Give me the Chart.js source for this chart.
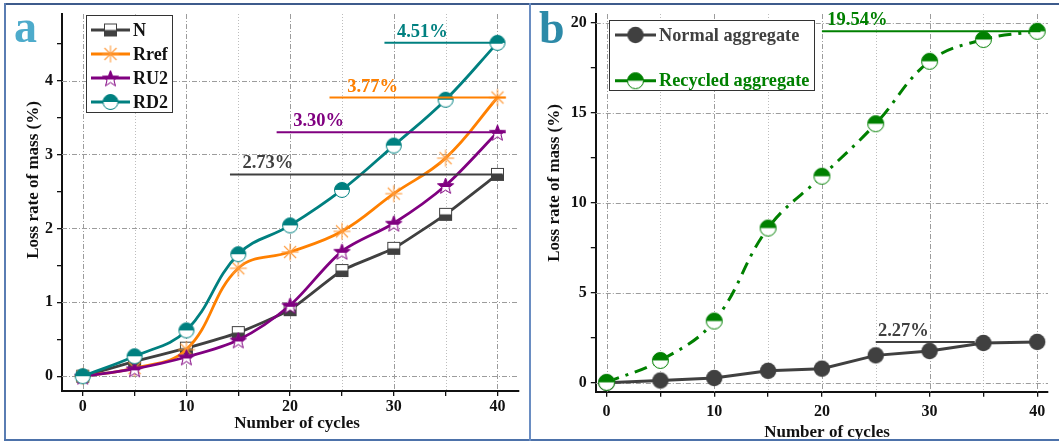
<!DOCTYPE html>
<html>
<head>
<meta charset="utf-8">
<title>Loss rate of mass</title>
<script src="https://cdn.jsdelivr.net/npm/chart.js@4.4.1/dist/chart.umd.min.js"></script>
<style>
  html, body { margin: 0; padding: 0; background: #ffffff; }
  body { width: 1059px; height: 445px; position: relative; overflow: hidden; }
  .panel { position: absolute; top: 0; height: 445px; }
  #wrapA { left: 0; width: 529px; }
  #wrapB { left: 529px; width: 530px; }
  .rule { position: absolute; z-index: 5; }
</style>
</head>
<body>
<div class="panel" id="wrapA"><canvas id="chartA" width="529" height="445"></canvas></div>
<div class="panel" id="wrapB"><canvas id="chartB" width="530" height="445"></canvas></div>
<div class="rule" style="left:4px;top:3px;width:1055px;height:2px;background:#3d5b8c"></div>
<div class="rule" style="left:4px;top:3px;width:2px;height:438px;background:#5a7db3"></div>
<div class="rule" style="left:4px;top:439px;width:1055px;height:2px;background:#4d72aa"></div>
<div class="rule" style="left:529px;top:3px;width:2px;height:438px;background:#6a8dc2"></div>

<script>
// ---- data: freeze-thaw cycles and mass loss (%) ----
const cycles = [0, 5, 10, 15, 20, 25, 30, 35, 40];

// panel a
const lossN    = [0, 0.20, 0.38, 0.59, 0.90, 1.43, 1.73, 2.19, 2.73];
const lossRref = [0, 0.11, 0.36, 1.46, 1.68, 1.96, 2.47, 2.95, 3.77];
const lossRU2  = [0, 0.10, 0.26, 0.49, 0.96, 1.69, 2.07, 2.58, 3.30];
const lossRD2  = [0, 0.27, 0.62, 1.65, 2.04, 2.52, 3.12, 3.74, 4.51];

// panel b
const lossNormal   = [0, 0.12, 0.26, 0.66, 0.78, 1.52, 1.76, 2.21, 2.27];
const lossRecycled = [0.02, 1.24, 3.43, 8.60, 11.48, 14.40, 17.87, 19.08, 19.54];

const SERIF = '"Liberation Serif", "Times New Roman", serif';
const bold = (px) => `bold ${px}px ${SERIF}`;

const C = {
  grey: '#404040', orange: '#ff8000', purple: '#800080', teal: '#008080', green: '#008000'
};

const toPoints = (ys) => cycles.map((c, i) => ({ x: c, y: ys[i] }));

// ---- marker images ----
function makeCanvas(size) {
  const cv = document.createElement('canvas');
  cv.width = size; cv.height = size;
  return cv;
}
function halfCircle(r, color) {
  const s = Math.ceil(2 * r + 3), c = s / 2;
  const cv = makeCanvas(s), g = cv.getContext('2d');
  g.beginPath(); g.arc(c, c, r, 0, Math.PI * 2); g.fillStyle = '#fff'; g.fill();
  g.save(); g.beginPath(); g.rect(0, 0, s, c); g.clip();
  g.beginPath(); g.arc(c, c, r, 0, Math.PI * 2); g.fillStyle = color; g.fill();
  g.restore();
  g.beginPath(); g.arc(c, c, r, 0, Math.PI * 2); g.lineWidth = 1; g.strokeStyle = color; g.stroke();
  return cv;
}
function fullCircle(r, color) {
  const s = Math.ceil(2 * r + 3), c = s / 2;
  const cv = makeCanvas(s), g = cv.getContext('2d');
  g.beginPath(); g.arc(c, c, r, 0, Math.PI * 2); g.fillStyle = color; g.fill();
  return cv;
}
function halfSquare(w, color) {
  const s = w + 3, o = 1.5;
  const cv = makeCanvas(s), g = cv.getContext('2d');
  g.fillStyle = '#fff'; g.fillRect(o, o, w, w);
  g.fillStyle = color; g.fillRect(o, o + w / 2, w, w / 2);
  g.lineWidth = 1; g.strokeStyle = color; g.strokeRect(o, o, w, w);
  return cv;
}
function halfStar(R, color) {
  const s = Math.ceil(2 * R + 4), c = s / 2, rIn = R * 0.42;
  const cv = makeCanvas(s), g = cv.getContext('2d');
  const path = () => {
    g.beginPath();
    for (let k = 0; k < 10; k++) {
      const a = -Math.PI / 2 + k * Math.PI / 5, rr = k % 2 ? rIn : R;
      const px = c + rr * Math.cos(a), py = c + rr * Math.sin(a) + 1;
      k ? g.lineTo(px, py) : g.moveTo(px, py);
    }
    g.closePath();
  };
  path(); g.fillStyle = '#fff'; g.fill();
  g.save(); g.beginPath(); g.rect(0, 0, s, c + 1.5); g.clip();
  path(); g.fillStyle = color; g.fill(); g.restore();
  path(); g.lineWidth = 1; g.strokeStyle = color; g.stroke();
  return cv;
}
function asterisk(r, color) {
  const s = Math.ceil(2 * r + 3), c = s / 2;
  const cv = makeCanvas(s), g = cv.getContext('2d');
  g.strokeStyle = color; g.lineWidth = 1.1;
  for (let k = 0; k < 4; k++) {
    const a = k * Math.PI / 4;
    g.beginPath();
    g.moveTo(c - r * Math.cos(a), c - r * Math.sin(a));
    g.lineTo(c + r * Math.cos(a), c + r * Math.sin(a));
    g.stroke();
  }
  return cv;
}

const mkN = halfSquare(12, C.grey);
const mkRref = asterisk(8.5, '#ff9a3a');
const mkRU2 = halfStar(8.5, C.purple);
const mkRD2 = halfCircle(7.5, C.teal);
const mkNormal = fullCircle(8.2, C.grey);
const mkRecycled = halfCircle(8, C.green);

// ---- plugins ----
const gridPlugin = {
  id: 'dashGrid',
  beforeDatasetsDraw(chart) {
    const { ctx, chartArea: a, scales: { x, y } } = chart;
    ctx.save();
    ctx.lineWidth = 1;
    x.ticks.forEach(t => {
      const px = Math.round(x.getPixelForValue(t.value)) + 0.5;
      const major = t.value % 10 === 0;
      ctx.strokeStyle = major ? '#9c9c9c' : '#bdbdbd';
      ctx.setLineDash(major ? [5, 2, 1, 2] : [1, 2]);
      ctx.beginPath(); ctx.moveTo(px, a.top); ctx.lineTo(px, a.bottom); ctx.stroke();
    });
    y.ticks.forEach(t => {
      if (t.label === '') return;
      const py = Math.round(y.getPixelForValue(t.value)) + 0.5;
      ctx.strokeStyle = '#9c9c9c';
      ctx.setLineDash([5, 2, 1, 2]);
      ctx.beginPath(); ctx.moveTo(a.left, py); ctx.lineTo(a.right, py); ctx.stroke();
    });
    ctx.restore();
  }
};

// horizontal guide at each series' final value, with its value written above
const guidePlugin = {
  id: 'finalGuides',
  afterDatasetsDraw(chart, args, opts) {
    const { ctx, scales: { x, y } } = chart;
    ctx.save();
    opts.items.forEach(g => {
      const v = g.values[g.values.length - 1];
      const py = y.getPixelForValue(v);
      ctx.strokeStyle = g.color; ctx.lineWidth = g.width || 2; ctx.setLineDash([]);
      ctx.beginPath();
      ctx.moveTo(x.getPixelForValue(g.from), py);
      ctx.lineTo(x.getPixelForValue(g.to), py);
      ctx.stroke();
      ctx.fillStyle = g.color; ctx.font = bold(18.5);
      ctx.textAlign = 'left'; ctx.textBaseline = 'alphabetic';
      ctx.fillText(v.toFixed(2) + '%', x.getPixelForValue(g.textAt), py - 6);
    });
    ctx.restore();
  }
};

const legendPlugin = {
  id: 'boxLegend',
  afterDraw(chart, args, o) {
    const { ctx } = chart;
    ctx.save();
    ctx.fillStyle = '#fff';
    ctx.fillRect(o.x, o.y, o.w, o.h);
    ctx.strokeStyle = '#333'; ctx.lineWidth = 1; ctx.setLineDash([]);
    ctx.strokeRect(o.x + 0.5, o.y + 0.5, o.w, o.h);
    o.entries.forEach((e, i) => {
      const cy = o.firstY + i * o.gap;
      ctx.strokeStyle = e.color; ctx.lineWidth = 3;
      ctx.beginPath(); ctx.moveTo(o.lineX0, cy); ctx.lineTo(o.lineX1, cy); ctx.stroke();
      const mx = (o.lineX0 + o.lineX1) / 2;
      ctx.drawImage(e.marker, mx - e.marker.width / 2, cy - e.marker.height / 2);
      ctx.fillStyle = e.textColor; ctx.font = bold(o.fontSize);
      ctx.textAlign = 'left'; ctx.textBaseline = 'middle';
      ctx.fillText(e.label, o.lineX1 + 3, cy + 1);
    });
    ctx.restore();
  }
};

const titlePlugin = {
  id: 'panelTitles',
  afterDraw(chart, args, o) {
    const { ctx } = chart;
    ctx.save();
    ctx.fillStyle = '#111';
    ctx.font = bold(17);
    ctx.textAlign = 'center'; ctx.textBaseline = 'alphabetic';
    ctx.fillText(o.xTitle, o.xTitleX, o.xTitleY);
    ctx.save();
    ctx.translate(o.yTitleX, o.yTitleY);
    ctx.rotate(-Math.PI / 2);
    ctx.textBaseline = 'middle';
    ctx.fillText(o.yTitle, 0, 0);
    ctx.restore();
    ctx.fillStyle = o.letterColor;
    ctx.font = bold(46);
    ctx.textAlign = 'left';
    ctx.fillText(o.letter, o.letterX, o.letterY);
    ctx.restore();
  }
};

function lineSet(label, ys, color, marker, extra) {
  return Object.assign({
    label, data: toPoints(ys), borderColor: color, backgroundColor: color,
    borderWidth: 2.8, pointStyle: marker, pointRadius: 8, pointHoverRadius: 8,
    fill: false, tension: 0.4
  }, extra || {});
}

function axes(o) {
  const tickFont = { family: SERIF, weight: 'bold', size: 16 };
  return {
    x: {
      type: 'linear', min: o.xMin, max: o.xMax,
      afterFit: s => { s.height = o.xHeight; },
      grid: { drawOnChartArea: false, drawTicks: true, tickLength: 5, color: '#111', lineWidth: 1.3 },
      border: { display: true, color: '#111', width: 2 },
      ticks: {
        stepSize: 5, includeBounds: false, autoSkip: false, maxRotation: 0,
        padding: o.xPad, color: '#111', font: tickFont,
        callback: v => (v % 10 === 0 ? String(v) : '')
      }
    },
    y: {
      type: 'linear', min: o.yMin, max: o.yMax,
      afterFit: s => { s.width = o.yWidth; },
      grid: { drawOnChartArea: false, drawTicks: true, tickLength: 5, color: '#111', lineWidth: 1.3 },
      border: { display: true, color: '#111', width: 2 },
      ticks: {
        stepSize: o.yStep, includeBounds: false, autoSkip: false,
        padding: 4, color: '#111', font: tickFont,
        callback: v => (Math.abs(v / o.yLabelEvery - Math.round(v / o.yLabelEvery)) < 1e-9 ? String(v) : '')
      }
    }
  };
}

// ---- panel a ----
new Chart(document.getElementById('chartA'), {
  type: 'line',
  data: {
    datasets: [
      lineSet('N', lossN, C.grey, mkN, { order: 4, tension: 0.15 }),
      lineSet('Rref', lossRref, C.orange, mkRref, { order: 3 }),
      lineSet('RU2', lossRU2, C.purple, mkRU2, { order: 2, tension: 0.3 }),
      lineSet('RD2', lossRD2, C.teal, mkRD2, { order: 1 })
    ]
  },
  options: {
    responsive: false, animation: false, events: [],
    layout: { padding: { left: 0, top: 14, right: 10, bottom: 0 } },
    scales: axes({ xMin: -2, xMax: 42, yMin: -0.2, yMax: 4.9, yStep: 0.5, yLabelEvery: 1,
                   xHeight: 54, yWidth: 62, xPad: 1 }),
    plugins: {
      legend: { display: false }, tooltip: { enabled: false },
      finalGuides: { items: [
        { values: lossRD2,  color: C.teal,   from: 29.1, to: 40.5, textAt: 30.3 },
        { values: lossRref, color: C.orange, from: 23.8, to: 40.8, textAt: 25.5 },
        { values: lossRU2,  color: C.purple, from: 18.7, to: 40.8, textAt: 20.3 },
        { values: lossN,    color: C.grey,   from: 14.2, to: 40.5, textAt: 15.4 }
      ] },
      boxLegend: {
        x: 86, y: 15, w: 86, h: 97, firstY: 30, gap: 24, lineX0: 91, lineX1: 130, fontSize: 18,
        entries: [
          { label: 'N',    color: C.grey,   textColor: '#111', marker: mkN },
          { label: 'Rref', color: C.orange, textColor: '#111', marker: mkRref },
          { label: 'RU2',  color: C.purple, textColor: '#111', marker: mkRU2 },
          { label: 'RD2',  color: C.teal,   textColor: '#111', marker: mkRD2 }
        ]
      },
      panelTitles: {
        xTitle: 'Number of cycles', xTitleX: 297, xTitleY: 428,
        yTitle: 'Loss rate of mass (%)', yTitleX: 34, yTitleY: 180,
        letter: 'a', letterColor: '#4dabcb', letterX: 14, letterY: 42
      }
    }
  },
  plugins: [gridPlugin, guidePlugin, legendPlugin, titlePlugin]
});

// ---- panel b ----
new Chart(document.getElementById('chartB'), {
  type: 'line',
  data: {
    datasets: [
      lineSet('Normal aggregate', lossNormal, C.grey, mkNormal, { order: 2, tension: 0, borderWidth: 3 }),
      lineSet('Recycled aggregate', lossRecycled, C.green, mkRecycled,
              { order: 1, borderWidth: 3, borderDash: [13, 7, 3, 7] })
    ]
  },
  options: {
    responsive: false, animation: false, events: [],
    layout: { padding: { left: 0, top: 14, right: 6.5, bottom: 0 } },
    scales: axes({ xMin: -1, xMax: 41, yMin: -0.5, yMax: 20.5, yStep: 2.5, yLabelEvery: 5,
                   xHeight: 53.3, yWidth: 66.8, xPad: 6 }),
    plugins: {
      legend: { display: false }, tooltip: { enabled: false },
      finalGuides: { items: [
        { values: lossRecycled, color: C.green, from: 20, to: 40.3, textAt: 20.5, width: 2.2 },
        { values: lossNormal,   color: C.grey,  from: 25, to: 34.2, textAt: 25.2 }
      ] },
      boxLegend: {
        x: 80, y: 20, w: 205, h: 70, firstY: 35, gap: 45.7, lineX0: 86, lineX1: 127, fontSize: 18.3,
        entries: [
          { label: 'Normal aggregate',   color: C.grey,  textColor: C.grey,  marker: mkNormal },
          { label: 'Recycled aggregate', color: C.green, textColor: C.green, marker: mkRecycled }
        ]
      },
      panelTitles: {
        xTitle: 'Number of cycles', xTitleX: 298, xTitleY: 437,
        yTitle: 'Loss rate of mass (%)', yTitleX: 26, yTitleY: 183,
        letter: 'b', letterColor: '#2d8aa8', letterX: 10, letterY: 43
      }
    }
  },
  plugins: [gridPlugin, guidePlugin, legendPlugin, titlePlugin]
});
</script>
</body>
</html>
